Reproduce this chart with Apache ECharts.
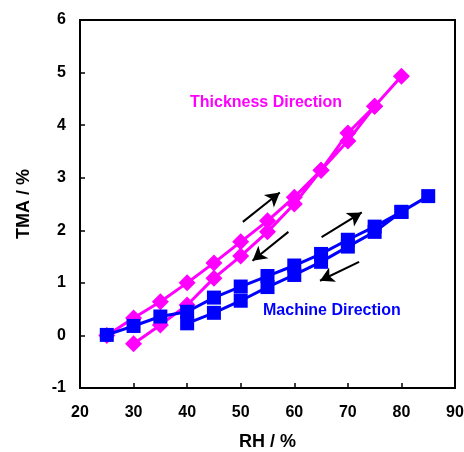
<!DOCTYPE html>
<html lang="en">
<head>
  <meta charset="UTF-8" />
  <title>TMA vs RH</title>
  <script src="https://cdn.jsdelivr.net/npm/echarts@6/dist/echarts.min.js"></script>
  <style>
    html, body { margin: 0; padding: 0; background: #fff; }
    #main { width: 464px; height: 452px; }
  </style>
</head>
<body>
  <div id="main"></div>
<script>
  // 数据：RH (%) 与 TMA (%)，先升后降
  var thickRH  = [25, 30, 35, 40, 45, 50, 55, 60, 65, 70, 75, 80, 75, 70, 65, 60, 55, 50, 45, 40, 35, 30];
  var thickTMA = [0.0, 0.33, 0.64, 1.0, 1.38, 1.78, 2.18, 2.63, 3.14, 3.85, 4.36, 4.93, 4.36, 3.70, 3.14, 2.50, 1.97, 1.51, 1.09, 0.58, 0.2, -0.16];
  var machRH   = [25, 30, 35, 40, 45, 50, 55, 60, 65, 70, 75, 80, 85, 80, 75, 70, 65, 60, 55, 50, 45, 40];
  var machTMA  = [0.01, 0.18, 0.36, 0.45, 0.72, 0.93, 1.13, 1.33, 1.55, 1.82, 2.07, 2.35, 2.65, 2.35, 1.97, 1.69, 1.40, 1.15, 0.92, 0.66, 0.43, 0.23];
  var xTicks = [20, 30, 40, 50, 60, 70, 80, 90];
  var yTicks = [-1, 0, 1, 2, 3, 4, 5, 6];
  // 箭头（数据坐标）
  var arrows = [
    [[50.4, 2.16], [57.3, 2.72]],
    [[58.9, 1.97], [52.2, 1.42]],
    [[65.1, 1.87], [72.6, 2.34]],
    [[72.1, 1.40], [64.8, 1.04]]
  ];

  function pairs(xs, ys) {
    var out = [];
    for (var i = 0; i < xs.length; i++) out.push([xs[i], ys[i]]);
    return out;
  }

  var chart = echarts.init(document.getElementById("main"));
  var font = "Liberation Sans, Arial, sans-serif";

  var option = {
    animation: false,
    grid: {
      left: 80, top: 20, right: 9, bottom: 64,
      outerBoundsMode: "none",
      show: true, borderColor: "#000", borderWidth: 2
    },
    xAxis: {
      type: "value", min: xTicks[0], max: xTicks[xTicks.length - 1], interval: 10,
      name: "RH / %", nameLocation: "middle", nameGap: 45,
      nameTextStyle: { color: "#000", fontSize: 18, fontWeight: "bold", fontFamily: font },
      axisLine: { onZero: false, lineStyle: { color: "#000", width: 2 } },
      axisTick: { inside: true, length: 5, lineStyle: { color: "#000", width: 1.5 } },
      axisLabel: { color: "#000", fontSize: 16, fontWeight: "bold", fontFamily: font, margin: 17 },
      splitLine: { show: false }
    },
    yAxis: {
      type: "value", min: yTicks[0], max: yTicks[yTicks.length - 1], interval: 1,
      name: "TMA / %", nameLocation: "middle", nameGap: 47,
      nameTextStyle: { color: "#000", fontSize: 18, fontWeight: "bold", fontFamily: font },
      axisLine: { show: true, onZero: false, lineStyle: { color: "#000", width: 2 } },
      axisTick: { show: true, inside: true, length: 5, lineStyle: { color: "#000", width: 1.5 } },
      axisLabel: { color: "#000", fontSize: 16, fontWeight: "bold", fontFamily: font, margin: 14 },
      splitLine: { show: false }
    },
    graphic: [
      { type: "text", left: 190, top: 95, style: { text: "Thickness Direction", fill: "#ff00ff", font: "bold 16px " + font } },
      { type: "text", left: 263, top: 303, style: { text: "Machine Direction", fill: "#0000ff", font: "bold 16px " + font } }
    ],
    series: [
      {
        type: "line",
        data: pairs(thickRH, thickTMA),
        symbol: "diamond", symbolSize: 17,
        lineStyle: { color: "#ff00ff", width: 3 },
        itemStyle: { color: "#ff00ff" },
        z: 2
      },
      {
        type: "line",
        data: pairs(machRH, machTMA),
        symbol: "rect", symbolSize: 14,
        lineStyle: { color: "#0000ff", width: 3 },
        itemStyle: { color: "#0000ff" },
        z: 3
      },
      {
        type: "line",
        data: [],
        markLine: {
          silent: true,
          symbol: ["none", "arrow"],
          symbolSize: [12, 14],
          label: { show: false },
          lineStyle: { color: "#000", width: 2, type: "solid" },
          data: arrows.map(function (a) {
            return [{ coord: a[0] }, { coord: a[1] }];
          })
        }
      }
    ]
  };

  chart.setOption(option);
</script>
</body>
</html>
